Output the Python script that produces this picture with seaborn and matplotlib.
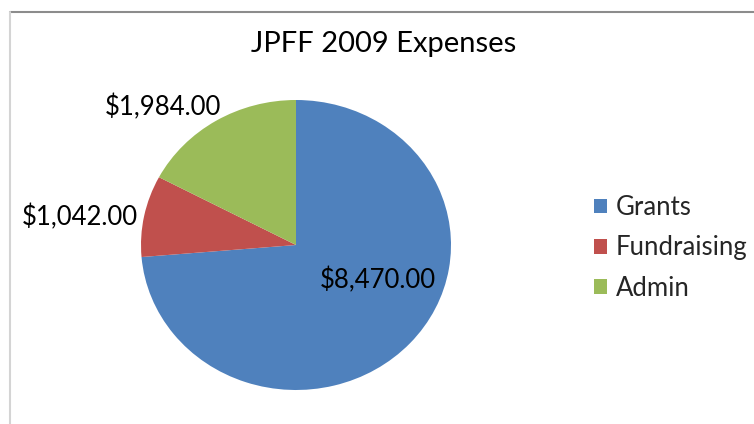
import matplotlib
matplotlib.use("Agg")
import matplotlib.pyplot as plt
import seaborn as sns
from matplotlib.lines import Line2D

categories = ["Grants", "Fundraising", "Admin"]
values = [8470.00, 1042.00, 1984.00]
colors = ["#4F81BD", "#C0504D", "#9BBB59"]
title = "JPFF 2009 Expenses"

sns.set_theme(style="white")
plt.rcParams["font.family"] = ["Lato", "DejaVu Sans"]

fig = plt.figure(figsize=(7.54, 4.24), dpi=100)
fig.patch.set_facecolor("white")

# chart-area border (top and left visible)
fig.add_artist(Line2D([10/754, 1], [1-12/424, 1-12/424], transform=fig.transFigure, color="#8c8c8c", lw=1.5))
fig.add_artist(Line2D([10/754, 10/754], [0, 1-12/424], transform=fig.transFigure, color="#d4d4d4", lw=1.5))

ax = fig.add_axes([141/754, 1-390/424, 310/754, 290/424])
wedges, _ = ax.pie(values, colors=sns.color_palette(colors), startangle=90, counterclock=False,
                   wedgeprops=dict(linewidth=0))
ax.set_aspect("auto")
ax.set_xlim(-1, 1)
ax.set_ylim(-1, 1)

labels = ["${:,.2f}".format(v) for v in values]
ax.text(0.53, -0.24, labels[0], ha="center", va="center", fontsize=18.5, color="black")
ax.text(-1.02, 0.19, labels[1], ha="right", va="center", fontsize=18.5, color="black")
ax.text(-0.86, 0.95, labels[2], ha="center", va="center", fontsize=18.5, color="black")

fig.text(384/754, 1-44/424, title, ha="center", va="center", fontsize=21, color="black")

fig.legend(wedges, categories, loc="center left", bbox_to_anchor=(594/754, 1-248/424),
           frameon=False, fontsize=18.5, handlelength=0.5, handleheight=0.5,
           handletextpad=0.35, labelspacing=0.6, borderpad=0, borderaxespad=0)

fig.savefig("out.png", dpi=100, facecolor="white")
